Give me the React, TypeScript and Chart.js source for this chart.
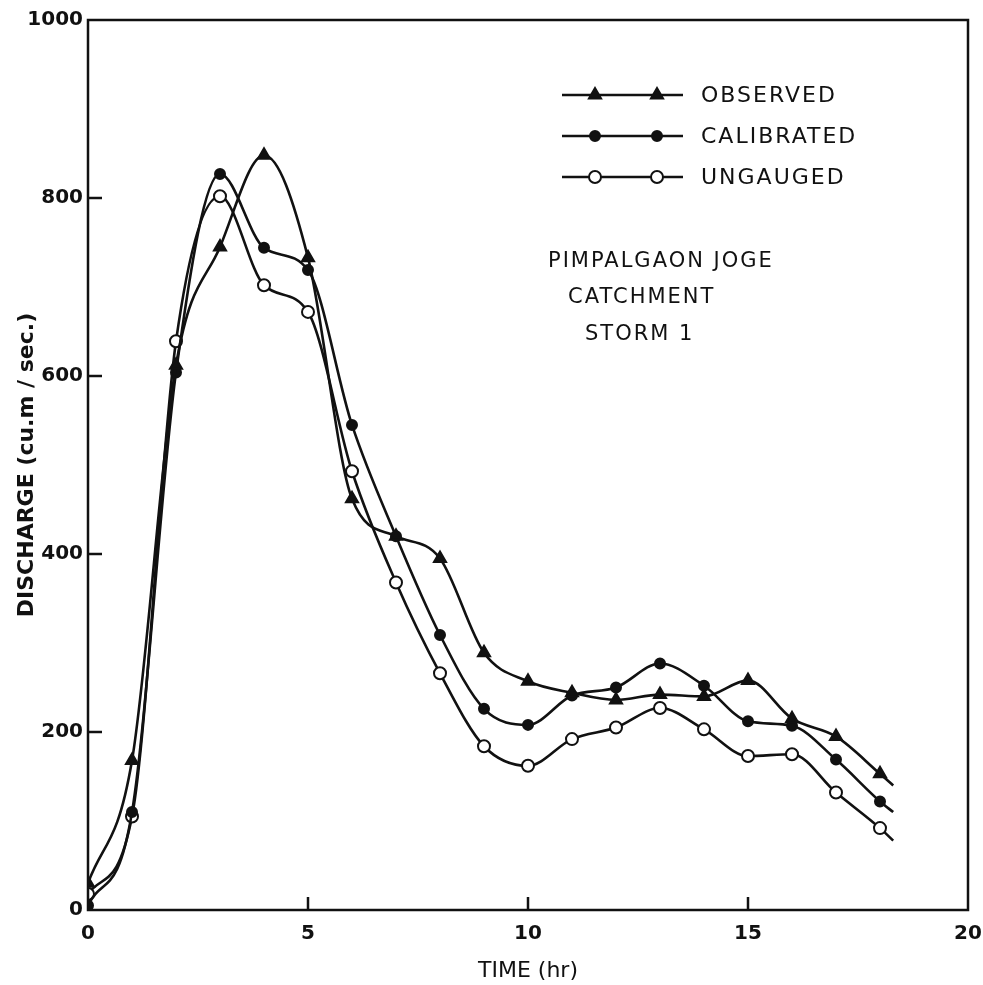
import React, { useEffect, useRef } from "react";
import { Chart, registerables } from "chart.js";

Chart.register(...registerables);

// Time (hr) of each reading; the last entry is the short tail where the pen line ends
const timeHours = [0, 1, 2, 3, 4, 5, 6, 7, 8, 9, 10, 11, 12, 13, 14, 15, 16, 17, 18, 18.3];
const observed = [30, 168, 612, 745, 848, 733, 462, 420, 395, 289, 257, 244, 236, 242, 240, 258, 215, 195, 153, 140];
const calibrated = [5, 110, 604, 827, 744, 719, 545, 420, 309, 226, 208, 241, 250, 277, 252, 212, 207, 169, 122, 110];
const ungauged = [18, 105, 639, 802, 702, 672, 493, 368, 266, 184, 162, 192, 205, 227, 203, 173, 175, 132, 92, 78];

const seriesNames = ["OBSERVED", "CALIBRATED", "UNGAUGED"];
const noteLines = ["PIMPALGAON JOGE", "CATCHMENT", "STORM 1"];
const xTicks = [0, 5, 10, 15, 20];
const yTicks = [0, 200, 400, 600, 800, 1000];

const INK = "#111";
const FONT = "'DejaVu Sans', sans-serif";

const toPoints = (vals: number[]) => vals.map((v, i) => ({ x: timeHours[i], y: v }));
const radiusFor = (r: number) => (ctx: any) => (ctx.dataIndex === timeHours.length - 1 ? 0 : r);

const styles = [
  { pointStyle: "triangle", radius: 7, fill: INK },
  { pointStyle: "circle", radius: 5, fill: INK },
  { pointStyle: "circle", radius: 6, fill: "#fff" },
];

const framePlugin = {
  id: "frame",
  afterDraw(chart: any) {
    const { ctx, chartArea: a, scales } = chart;
    ctx.save();
    ctx.strokeStyle = INK;
    ctx.lineWidth = 2.5;
    ctx.strokeRect(a.left, a.top, a.right - a.left, a.bottom - a.top);
    // inward ticks
    yTicks.forEach((v) => {
      if (v === 0 || v === 1000) return;
      const y = scales.y.getPixelForValue(v);
      ctx.beginPath();
      ctx.moveTo(a.left, y);
      ctx.lineTo(a.left + 14, y);
      ctx.stroke();
    });
    xTicks.forEach((v) => {
      if (v === 0 || v === 20) return;
      const x = scales.x.getPixelForValue(v);
      ctx.beginPath();
      ctx.moveTo(x, a.bottom);
      ctx.lineTo(x, a.bottom - 13);
      ctx.stroke();
    });

    // legend
    const lx1 = 562, lx2 = 683, m1 = 595, m2 = 657, tx = 701;
    const rows = [95, 136, 177];
    rows.forEach((ry, i) => {
      const s = styles[i];
      ctx.strokeStyle = INK;
      ctx.lineWidth = 2.5;
      ctx.beginPath();
      ctx.moveTo(lx1, ry);
      ctx.lineTo(lx2, ry);
      ctx.stroke();
      [m1, m2].forEach((mx) => {
        ctx.lineWidth = 2;
        ctx.fillStyle = s.fill;
        ctx.beginPath();
        if (s.pointStyle === "triangle") {
          const r = s.radius;
          ctx.moveTo(mx, ry - r);
          ctx.lineTo(mx + r * 0.87, ry + r * 0.5);
          ctx.lineTo(mx - r * 0.87, ry + r * 0.5);
          ctx.closePath();
        } else {
          ctx.arc(mx, ry, s.radius, 0, Math.PI * 2);
        }
        ctx.fill();
        ctx.stroke();
      });
      ctx.fillStyle = INK;
      ctx.font = `22px ${FONT}`;
      ctx.textAlign = "left";
      ctx.textBaseline = "middle";
      (ctx as any).letterSpacing = "2px";
      ctx.fillText(seriesNames[i], tx, ry + 1);
    });

    // note text
    ctx.font = `21px ${FONT}`;
    (ctx as any).letterSpacing = "2px";
    ctx.textAlign = "left";
    const notePos = [
      [548, 262],
      [568, 298],
      [585, 335],
    ];
    noteLines.forEach((t, i) => {
      ctx.fillText(t, notePos[i][0], notePos[i][1]);
    });
    ctx.restore();
  },
};

export default function App() {
  const ref = useRef<HTMLCanvasElement>(null);
  useEffect(() => {
    if (!ref.current) return;
    const datasets = [observed, calibrated, ungauged].map((vals, i) => ({
      label: seriesNames[i],
      data: toPoints(vals),
      borderColor: INK,
      borderWidth: 2.6,
      backgroundColor: styles[i].fill,
      pointBackgroundColor: styles[i].fill,
      pointBorderColor: INK,
      pointBorderWidth: 2,
      pointStyle: styles[i].pointStyle as any,
      pointRadius: radiusFor(styles[i].radius),
      cubicInterpolationMode: "monotone" as const,
      fill: false,
    }));
    const chart = new Chart(ref.current, {
      type: "line",
      data: { datasets },
      options: {
        responsive: false,
        animation: false,
        layout: { padding: { top: 20, right: 15, left: 0, bottom: 0 } },
        plugins: { legend: { display: false }, tooltip: { enabled: false } },
        scales: {
          x: {
            type: "linear",
            min: 0,
            max: 20,
            afterBuildTicks: (s: any) => {
              s.ticks = xTicks.map((v) => ({ value: v }));
            },
            afterFit: (s: any) => {
              s.height = 75;
              s.paddingRight = 0;
              s.paddingLeft = 0;
            },
            grid: { display: false, drawTicks: false },
            border: { display: false },
            ticks: {
              color: INK,
              padding: 12,
              font: { family: FONT, size: 20, weight: "bold" },
              callback: (v: any) => String(v),
            },
            title: {
              display: true,
              text: "TIME (hr)",
              color: INK,
              font: { family: FONT, size: 22 },
              padding: { top: 0, bottom: 1 },
            },
          },
          y: {
            type: "linear",
            min: 0,
            max: 1000,
            afterBuildTicks: (s: any) => {
              s.ticks = yTicks.map((v) => ({ value: v }));
            },
            afterFit: (s: any) => {
              s.width = 88;
              s.paddingTop = 0;
              s.paddingBottom = 0;
            },
            grid: { display: false, drawTicks: false },
            border: { display: false },
            ticks: {
              color: INK,
              padding: 5,
              font: { family: FONT, size: 20, weight: "bold" },
              callback: (v: any) => String(v),
            },
            title: {
              display: true,
              text: "DISCHARGE (cu.m / sec.)",
              color: INK,
              font: { family: FONT, size: 22, weight: "bold" },
              padding: { top: 14, bottom: 0 },
            },
          },
        },
      },
      plugins: [framePlugin],
    });
    return () => chart.destroy();
  }, []);
  return (
    <div style={{ position: "fixed", left: 0, top: 0, width: 983, height: 985, background: "#fff" }}>
      <canvas ref={ref} width={983} height={985} />
    </div>
  );
}
